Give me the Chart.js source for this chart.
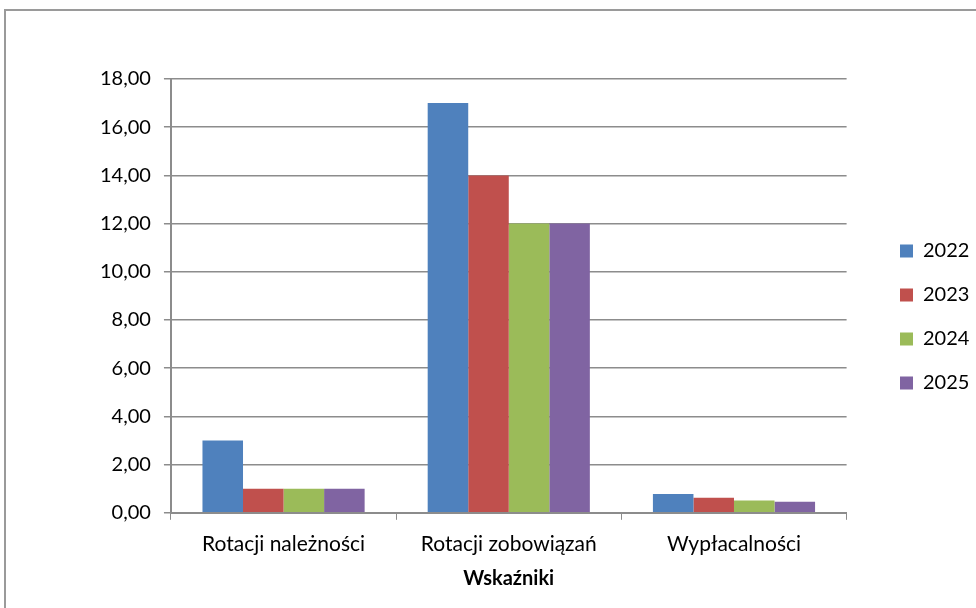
<!DOCTYPE html>
<html>
<head>
<meta charset="utf-8">
<script src="https://cdn.jsdelivr.net/npm/chart.js@4"></script>
<style>
  html, body { margin: 0; padding: 0; background: #fff; }
  #wrap { position: relative; width: 976px; height: 608px; overflow: hidden; }
  #frame { position: absolute; left: 4px; top: 9px; width: 990px; height: 620px; border: 2px solid #9a9a9a; box-sizing: border-box; }
  #chart { position: absolute; left: 0; top: 0; }
</style>
</head>
<body>
<div id="wrap">
  <div id="frame"></div>
  <canvas id="chart" width="976" height="608"></canvas>
</div>
<script>
const categories = ['Rotacji należności', 'Rotacji zobowiązań', 'Wypłacalności'];
const years = ['2022', '2023', '2024', '2025'];
const values2022 = [3.00, 17.00, 0.78];
const values2023 = [1.00, 14.00, 0.62];
const values2024 = [1.00, 12.00, 0.51];
const values2025 = [1.00, 12.00, 0.46];
const colors = ['#4F81BD', '#C0504D', '#9BBB59', '#8064A2'];

const seriesValues = [values2022, values2023, values2024, values2025];
const gridColor = '#8c8c8c';

// push the legend to where the original has it
const legendShift = {
    id: 'legendShift',
    afterLayout(chart) {
        const lg = chart.legend;
        const dx = 900 - (lg.left + lg.options.labels.padding);
        lg.left += dx;
        lg.right += dx;
        lg.top -= 20;
        lg.bottom -= 20;
    }
};

new Chart(document.getElementById('chart').getContext('2d'), {
    type: 'bar',
    data: {
        labels: categories,
        datasets: years.map((y, i) => ({
            label: y,
            data: seriesValues[i],
            backgroundColor: colors[i],
            borderWidth: 0,
            categoryPercentage: 0.72,
            barPercentage: 1.0
        }))
    },
    options: {
        responsive: false,
        animation: false,
        layout: { padding: { left: 87, top: 79, right: 26, bottom: 13 } },
        plugins: {
            legend: {
                position: 'right',
                labels: {
                    color: '#000',
                    font: { family: 'Lato', size: 20 },
                    boxWidth: 13,
                    boxHeight: 13,
                    padding: 24
                }
            },
            tooltip: { enabled: false }
        },
        scales: {
            x: {
                grid: { drawOnChartArea: false, drawTicks: true, tickLength: 7, color: gridColor, offset: true },
                border: { color: gridColor, width: 2 },
                ticks: { color: '#000', font: { family: 'Lato', size: 21 }, padding: 12 },
                title: { display: true, text: 'Wskaźniki', color: '#000', font: { family: 'Lato', size: 20, weight: 'bold' }, padding: { top: -2, bottom: 4 } }
            },
            y: {
                min: 0,
                max: 18,
                ticks: {
                    stepSize: 2,
                    color: '#000',
                    font: { family: 'Lato', size: 20 },
                    padding: 13,
                    callback: v => v.toFixed(2).replace('.', ',')
                },
                grid: { color: gridColor, lineWidth: 1.5, tickLength: 7 },
                border: { color: gridColor, width: 2 }
            }
        }
    },
    plugins: [legendShift]
});
</script>
</body>
</html>
